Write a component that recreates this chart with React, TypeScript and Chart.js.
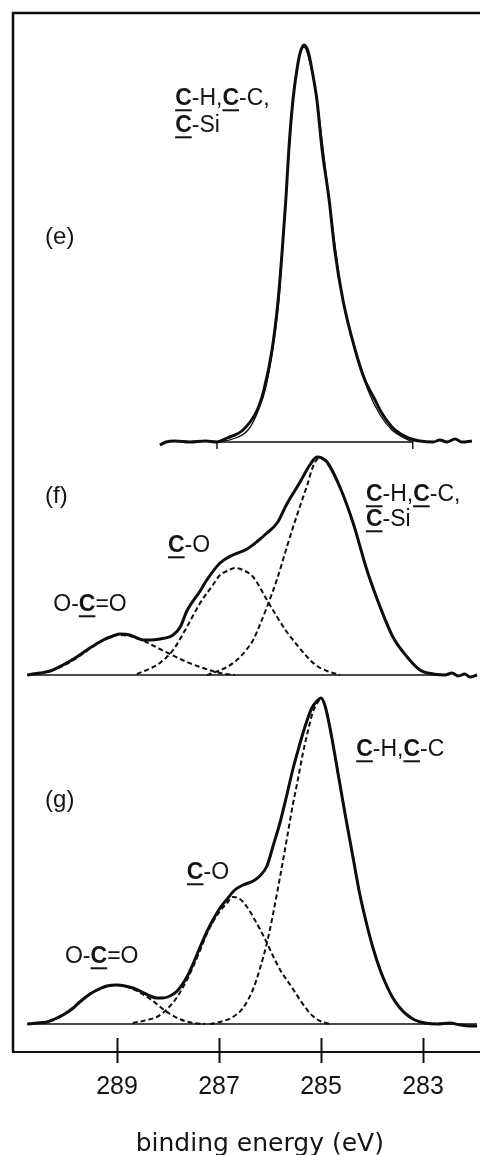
import React, { useEffect, useRef } from 'react';
import { Chart, registerables } from 'chart.js';

Chart.register(...registerables);

type Pt = [number, number]; // [binding energy (eV), intensity (a.u.)]

// ---------- panel (e) ----------
const eMeasured: Pt[] = [
  [288.16, -3], [288.04, 0], [287.86, 1], [287.57, 0], [287.27, 1], [287.04, 0],
  [286.84, 4], [286.53, 12], [286.25, 32], [286.12, 52], [285.96, 92], [285.84, 142],
  [285.76, 192], [285.69, 242], [285.63, 293], [285.55, 342], [285.47, 373], [285.41, 389],
  [285.33, 397], [285.25, 390], [285.18, 373], [285.08, 342], [284.98, 293], [284.84, 242],
  [284.73, 192], [284.57, 142], [284.33, 92], [284.14, 62], [283.94, 42], [283.82, 30],
  [283.69, 20], [283.55, 12], [283.29, 4], [283.06, 1], [282.80, 0], [282.67, 2],
  [282.53, 0], [282.37, 3], [282.24, 0], [282.04, 1],
];
const eFit: Pt[] = [
  [287.04, 0], [286.73, 3], [286.43, 12], [286.24, 30], [286.08, 55], [285.94, 95],
  [285.82, 145], [285.69, 242], [285.55, 342], [285.45, 380], [285.33, 395], [285.22, 380],
  [285.08, 342], [284.84, 242], [284.57, 142], [284.31, 90], [284.08, 52], [283.84, 27],
  [283.61, 12], [283.37, 4], [283.20, 0],
];
const eBackground: Pt[] = [[287.04, -7], [287.04, 0], [283.20, 0], [283.20, -7]];

// ---------- panel (f) ----------
const fMeasured: Pt[] = [
  [290.76, 0], [290.65, 1], [290.51, 2], [290.31, 4], [290.06, 10], [289.82, 17],
  [289.59, 25], [289.27, 35], [289.08, 39], [288.94, 41], [288.75, 40], [288.61, 37],
  [288.49, 35], [288.35, 35], [288.16, 36], [287.90, 40], [287.76, 48], [287.63, 64],
  [287.37, 84], [287.24, 95], [286.98, 112], [286.73, 120], [286.45, 126], [286.24, 134],
  [286.06, 142], [285.86, 152], [285.67, 171], [285.41, 193], [285.22, 210], [285.08, 218],
  [284.98, 217], [284.88, 213], [284.63, 188], [284.37, 152], [284.10, 105], [283.84, 68],
  [283.59, 38], [283.31, 18], [283.06, 5], [282.80, 1], [282.57, 0], [282.43, 2],
  [282.31, -1], [282.18, 1], [282.08, -2], [281.94, 0],
];
const fOCO: Pt[] = [
  [290.61, 1], [290.31, 4], [290.06, 9], [289.82, 16], [289.59, 24], [289.33, 33],
  [289.14, 38], [288.94, 40], [288.75, 39], [288.55, 36], [288.35, 31], [288.16, 26],
  [287.96, 21], [287.63, 13], [287.31, 7], [286.98, 2], [286.69, 0],
];
const fCO: Pt[] = [
  [288.61, 1], [288.29, 8], [288.16, 12], [287.90, 25], [287.63, 48], [287.37, 72],
  [287.12, 90], [286.98, 100], [286.84, 104], [286.69, 107], [286.53, 105], [286.33, 98],
  [286.06, 75], [285.86, 58], [285.67, 43], [285.47, 30], [285.27, 18], [285.08, 9],
  [284.88, 4], [284.63, 0],
];
const fCH: Pt[] = [
  [287.24, 0], [287.12, 2], [286.88, 7], [286.65, 15], [286.45, 26], [286.33, 35],
  [286.20, 50], [286.06, 68], [285.86, 96], [285.67, 128], [285.47, 160], [285.27, 190],
  [285.16, 208], [285.06, 216], [284.98, 216], [284.88, 212], [284.63, 188], [284.37, 152],
  [284.10, 105], [283.84, 68], [283.59, 38], [283.31, 18], [283.06, 5], [282.80, 1],
  [282.57, 0],
];
const fBackground: Pt[] = [[290.76, 0], [282.57, 0]];

// ---------- panel (g) ----------
const gMeasured: Pt[] = [
  [290.76, 0], [290.57, 1], [290.37, 2], [290.22, 5], [290.06, 9], [289.88, 15],
  [289.73, 22], [289.53, 30], [289.39, 34], [289.20, 38], [289.00, 39], [288.84, 38],
  [288.69, 36], [288.51, 32], [288.35, 28], [288.22, 26], [288.10, 26], [287.96, 28],
  [287.82, 33], [287.63, 47], [287.51, 60], [287.37, 77], [287.24, 92], [287.12, 104],
  [286.98, 116], [286.84, 125], [286.69, 134], [286.53, 139], [286.33, 143], [286.20, 148],
  [286.06, 158], [285.94, 178], [285.80, 202], [285.67, 229], [285.55, 255], [285.47, 270],
  [285.37, 288], [285.27, 304], [285.18, 316], [285.08, 323], [285.00, 326], [284.92, 318],
  [284.82, 295], [284.63, 240], [284.51, 205], [284.37, 166], [284.24, 130], [284.10, 99],
  [283.98, 76], [283.84, 54], [283.71, 38], [283.59, 26], [283.45, 16], [283.31, 9],
  [283.16, 4], [282.96, 1], [282.73, 0], [282.47, 1], [282.27, -1], [282.08, -2],
  [281.94, -2],
];
const gOCO: Pt[] = [
  [290.51, 1], [290.22, 5], [290.06, 9], [289.73, 22], [289.39, 34], [289.00, 39],
  [288.69, 35], [288.35, 25], [288.22, 20], [288.10, 15], [287.96, 10], [287.82, 6],
  [287.67, 3], [287.51, 1], [287.27, 0],
];
const gCO: Pt[] = [
  [288.69, 1], [288.41, 4], [288.22, 7], [288.10, 11], [287.96, 18], [287.82, 27],
  [287.63, 44], [287.51, 57], [287.37, 74], [287.24, 90], [287.12, 102], [286.98, 113],
  [286.84, 121], [286.73, 127], [286.59, 125], [286.45, 117], [286.33, 107], [286.20, 95],
  [286.06, 81], [285.94, 68], [285.80, 54], [285.67, 44], [285.55, 35], [285.41, 24],
  [285.27, 14], [285.16, 8], [285.02, 3], [284.82, 0],
];
const gCH: Pt[] = [
  [287.18, 0], [286.98, 2], [286.73, 7], [286.53, 16], [286.33, 35], [286.20, 55],
  [286.06, 81], [285.94, 110], [285.80, 148], [285.67, 185], [285.55, 220], [285.47, 240],
  [285.35, 272], [285.27, 290], [285.16, 312], [285.06, 322], [285.00, 326], [284.92, 318],
  [284.82, 295], [284.63, 240], [284.51, 205], [284.37, 166], [284.24, 130], [284.10, 99],
  [283.98, 76], [283.84, 54], [283.71, 38], [283.59, 26], [283.45, 16], [283.31, 9],
  [283.16, 4], [282.96, 1], [282.73, 0],
];
const gBackground: Pt[] = [[290.76, 0], [281.94, 0]];

// ---------- axis ----------
const tickValues = [289, 287, 285, 283];
const xTitle = 'binding energy (eV)';

// ---------- labels ----------
type Seg = { t: string; u?: boolean };
type Note = { axis: 'yE' | 'yF' | 'yG'; ev: number; val: number; segs: Seg[]; size: number };
const CHCC: Seg[] = [{ t: 'C', u: true }, { t: '-H,' }, { t: 'C', u: true }, { t: '-C,' }];
const CHCC_G: Seg[] = [{ t: 'C', u: true }, { t: '-H,' }, { t: 'C', u: true }, { t: '-C' }];
const CSI: Seg[] = [{ t: 'C', u: true }, { t: '-Si' }];
const CO: Seg[] = [{ t: 'C', u: true }, { t: '-O' }];
const OCO: Seg[] = [{ t: 'O-' }, { t: 'C', u: true }, { t: '=O' }];
const notes: Note[] = [
  { axis: 'yE', ev: 287.86, val: 343, segs: CHCC, size: 23 },
  { axis: 'yE', ev: 287.86, val: 316, segs: CSI, size: 23 },
  { axis: 'yE', ev: 290.41, val: 205, segs: [{ t: '(e)' }], size: 24 },
  { axis: 'yF', ev: 290.41, val: 179, segs: [{ t: '(f)' }], size: 24 },
  { axis: 'yF', ev: 288.0, val: 129, segs: CO, size: 23 },
  { axis: 'yF', ev: 290.25, val: 70, segs: OCO, size: 23 },
  { axis: 'yF', ev: 284.12, val: 180, segs: CHCC, size: 23 },
  { axis: 'yF', ev: 284.12, val: 155, segs: CSI, size: 23 },
  { axis: 'yG', ev: 290.41, val: 224, segs: [{ t: '(g)' }], size: 24 },
  { axis: 'yG', ev: 284.31, val: 274, segs: CHCC_G, size: 23 },
  { axis: 'yG', ev: 287.63, val: 151, segs: CO, size: 23 },
  { axis: 'yG', ev: 290.02, val: 67, segs: OCO, size: 23 },
];

// ---------- layout constants ----------
const W = 480;
const H = 1155;
const AREA_LEFT = 13;
const AREA_TOP = 13;
const AREA_BOTTOM = 1052;
const PX_PER_EV = 51;
const REF_PX = 321; // pixel of 285 eV
const X_MAX = 285 + (REF_PX - AREA_LEFT) / PX_PER_EV;
const X_MIN = 285 - (W - REF_PX) / PX_PER_EV;
const BASELINE: Record<string, number> = { yE: 442, yF: 675, yG: 1024 };
const INK = '#0e0e0e';
const TEXT = '#141414';
const SANS = '"Liberation Sans", Arial, sans-serif';

const toXY = (pts: Pt[]) => pts.map(([x, y]) => ({ x, y }));

const yAxis = (id: string) => ({
  type: 'linear' as const,
  display: false,
  min: -(AREA_BOTTOM - BASELINE[id]),
  max: BASELINE[id] - AREA_TOP,
});

const curve = (pts: Pt[], axis: string, kind: 'data' | 'fit' | 'comp' | 'bg') => {
  const base: any = {
    data: toXY(pts),
    yAxisID: axis,
    borderColor: INK,
    pointRadius: 0,
    fill: false,
  };
  if (kind === 'data') return { ...base, borderWidth: 3, cubicInterpolationMode: 'monotone' };
  if (kind === 'fit') return { ...base, borderWidth: 1.3, cubicInterpolationMode: 'monotone' };
  if (kind === 'comp')
    return { ...base, borderWidth: 2, borderDash: [5, 3], cubicInterpolationMode: 'monotone' };
  return { ...base, borderWidth: 1.4, tension: 0 };
};

const decor = {
  id: 'decor',
  afterDraw(chart: any) {
    const { ctx, chartArea, scales } = chart;
    ctx.save();
    // frame: left and top edges
    ctx.strokeStyle = INK;
    ctx.lineWidth = 2.5;
    ctx.beginPath();
    ctx.moveTo(chartArea.left, chartArea.bottom);
    ctx.lineTo(chartArea.left, chartArea.top);
    ctx.lineTo(chartArea.right, chartArea.top);
    ctx.stroke();
    // tick marks crossing the axis line
    ctx.lineWidth = 2;
    for (const v of tickValues) {
      const px = Math.round(scales.x.getPixelForValue(v)) + 0.5;
      ctx.beginPath();
      ctx.moveTo(px, chartArea.bottom - 14);
      ctx.lineTo(px, chartArea.bottom + 11);
      ctx.stroke();
    }
    // annotations
    ctx.fillStyle = TEXT;
    ctx.textBaseline = 'middle';
    ctx.textAlign = 'left';
    for (const n of notes) {
      let cx = scales.x.getPixelForValue(n.ev);
      const cy = scales[n.axis].getPixelForValue(n.val);
      for (const s of n.segs) {
        ctx.font = `${s.u ? 'bold ' : ''}${n.size}px ${SANS}`;
        ctx.fillText(s.t, cx, cy);
        const w = ctx.measureText(s.t).width;
        if (s.u) ctx.fillRect(cx, cy + n.size * 0.36 + 2, w, 2);
        cx += w;
      }
    }
    // axis title
    ctx.font = `25px "DejaVu Sans", sans-serif`;
    ctx.textAlign = 'center';
    ctx.fillText(xTitle, scales.x.getPixelForValue(286.2), 1144);
    ctx.restore();
  },
};

export default function App() {
  const ref = useRef<HTMLCanvasElement | null>(null);
  useEffect(() => {
    if (!ref.current) return;
    const chart = new Chart(ref.current, {
      type: 'line',
      data: {
        datasets: [
          curve(eBackground, 'yE', 'bg'),
          curve(eFit, 'yE', 'fit'),
          curve(eMeasured, 'yE', 'data'),
          curve(fBackground, 'yF', 'bg'),
          curve(fOCO, 'yF', 'comp'),
          curve(fCO, 'yF', 'comp'),
          curve(fCH, 'yF', 'comp'),
          curve(fMeasured, 'yF', 'data'),
          curve(gBackground, 'yG', 'bg'),
          curve(gOCO, 'yG', 'comp'),
          curve(gCO, 'yG', 'comp'),
          curve(gCH, 'yG', 'comp'),
          curve(gMeasured, 'yG', 'data'),
        ],
      },
      options: {
        animation: false,
        responsive: false,
        devicePixelRatio: 1,
        events: [],
        layout: { padding: { left: AREA_LEFT, top: AREA_TOP, right: 0, bottom: 0 } },
        plugins: {
          legend: { display: false },
          tooltip: { enabled: false },
          title: { display: false },
        },
        scales: {
          x: {
            type: 'linear',
            position: 'bottom',
            reverse: true,
            min: X_MIN,
            max: X_MAX,
            afterBuildTicks: (s: any) => {
              s.ticks = tickValues.map((v) => ({ value: v }));
            },
            afterFit: (s: any) => {
              s.height = H - AREA_BOTTOM;
            },
            grid: { display: false, drawTicks: false },
            border: { display: true, color: INK, width: 2 },
            ticks: {
              color: TEXT,
              font: { family: SANS, size: 25, lineHeight: 1.2 },
              padding: 20,
              maxRotation: 0,
              autoSkip: false,
              callback: (v: any) => String(v),
            },
            title: { display: false },
          },
          yE: yAxis('yE'),
          yF: yAxis('yF'),
          yG: yAxis('yG'),
        } as any,
      },
      plugins: [decor],
    } as any);
    return () => chart.destroy();
  }, []);
  return (
    <div style={{ position: 'absolute', left: 0, top: 0, width: W, height: H, background: '#fff' }}>
      <canvas ref={ref} width={W} height={H} style={{ display: 'block', width: W, height: H }} />
    </div>
  );
}
